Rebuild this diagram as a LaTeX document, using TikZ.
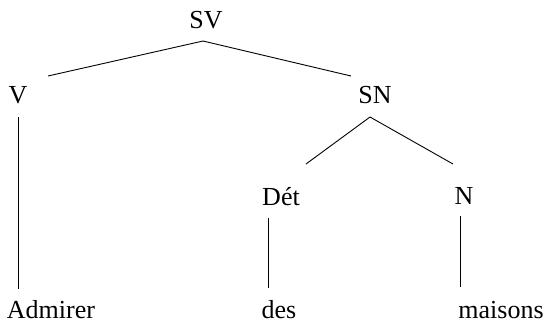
\documentclass[tikz,border=0pt]{standalone}
\usepackage{fontspec}
\setmainfont{Liberation Serif}

\begin{document}
\begin{tikzpicture}[x=1pt,y=1pt,line width=0.9pt]
            \tikzstyle{every node}+=[inner sep=0pt,anchor=base,font=\fontsize{26}{30}\selectfont]
            \useasboundingbox (0,0) rectangle (549,-325);
            \node (SV) at (206,-28) {SV};
            \node (V) at (18,-103) {V};
            \node (SN) at (375,-103) {SN};
            \node (Det) at (281,-205) {Dét};
            \node (N) at (464,-204) {N};
            \node (Admirer) at (51,-318) {Admirer};
            \node (des) at (279,-318) {des};
            \node (maisons) at (501,-318) {maisons};
            \draw [black] ([shift={(-3,-13)}]SV.base) -- ([shift={(30,27)}]V.base);
            \draw [black] ([shift={(-3,-13)}]SV.base) -- ([shift={(-24,27)}]SN.base);
            \draw [black] ([shift={(-5,-14)}]SN.base) -- ([shift={(25,41)}]Det.base);
            \draw [black] ([shift={(-5,-14)}]SN.base) -- ([shift={(-11,40)}]N.base);
            \draw [black] ([shift={(0,-14)}]V.base) -- ([shift={(-33,29)}]Admirer.base);
            \draw [black] ([shift={(-13,-13)}]Det.base) -- ([shift={(-11,30)}]des.base);
            \draw [black] ([shift={(-4,-12)}]N.base) -- ([shift={(-41,31)}]maisons.base);
        \end{tikzpicture}
\end{document}
